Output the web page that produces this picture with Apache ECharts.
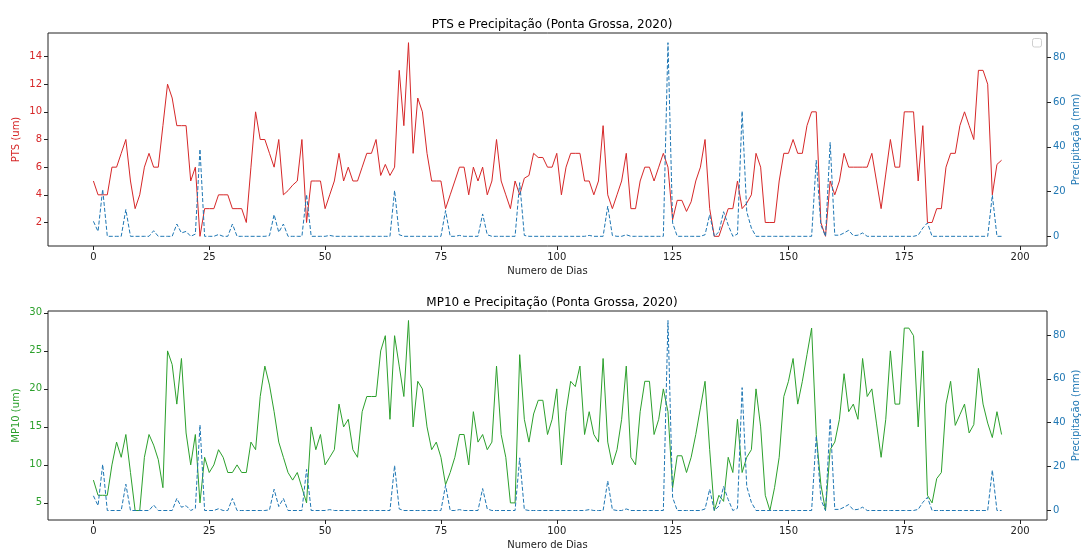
<!DOCTYPE html>
<html><head><meta charset="utf-8">
<script src="https://cdn.jsdelivr.net/npm/echarts@6/dist/echarts.min.js"></script>
<style>html,body{margin:0;padding:0;background:#fff}#c{width:1082px;height:553px}</style>
</head><body><div id="c"></div>
<script>
const pts = [
5,4,4,4,6,6,7,8,5,3,
4,6,7,6,6,9,12,11,9,9,
9,5,6,1,3,3,3,4,4,4,
3,3,3,2,6,10,8,8,7,6,
8,4,4.3,4.7,5,8,2,5,5,5,
3,4,5,7,5,6,5,5,6,7,
7,8,5.4,6.2,5.4,6,13,9,15,7,
11,10,7,5,5,5,3,4,5,6,
6,4,6,5,6,4,5,8,5,4,
3,5,4,5.2,5.4,7,6.7,6.7,6,6,
7,4,6,7,7,7,5,5,4,5,
9,4,3,4,5,7,3,3,5,6,
6,5,6,7,6,2.2,3.6,3.6,2.8,3.5,
5,6,8,3,1,1,2,3,3,5,
3,3.4,4,7,6,2,2,2,5,7,
7,8,7,7,9,10,10,2,1,5,
4,5,7,6,6,6,6,6,7,5,
3,5.5,8,6,6,10,10,10,5,9,
2,2,3,3,6,7,7,9,10,9,
8,13,13,12,4,6.2,6.5
];
const mp10 = [
8,6,6,6,10,13,11,14,9,4,
4,11,14,12.6,10.7,7,25,23.2,18,24,
14.2,10,14,5,11,9,10,12,11,9,
9,10,9,9,13,12,19,23,20.5,17,
13,11,9,8,9,7,5,15,12,14,
10,11,12,18,15,16,12,11,17,19,
19,19,25,27,16,27,23,19,29,15,
21,20,15,12,13,11,7.4,9,11,14,
14,10,17,13,14,12,13,23,14,11,
5,5,24.5,16,13,16.7,18.5,18.5,14,16,
20,10,17,21,20.3,23,14,17,14,13,
24,13,10,12,16,23,11,10,17,21,
21,14,16,20,17,7,11.2,11.2,9,11,
14,17.5,21,12,4,6,5.2,11,9,16,
9,11,12,20,15,6,4,7,11,19,
21,24,18,21,24.5,28,14,7.4,4,12,
13,16,22,17,18,16,24,19,20,15.5,
11,16,25,18,18,28,28,27,15,25,
6,5,8.2,9,18,21,15.2,16.6,18,14.2,
15.3,22.7,18,15.5,13.6,17,14
];
const precip = [
6.7,2.2,21,0,0,0,0,12,0,0,
0,0,0,2.5,0,0,0,0,5.5,1.5,
2.2,0,1,39,0,0,0,0.8,0,0,
5.5,0,0,0,0,0,0,0,0.3,9.7,
1.8,5.5,0,0,0,0,18.7,0,0,0,
0,0.4,0,0,0,0,0,0,0,0,
0,0,0,0,0,20.5,0.7,0,0,0,
0,0,0,0,0,0,11.5,0,0,0.4,
0,0,0,0,10,0.7,0,0,0,0,
0,0,24,0.4,0,0,0,0,0,0,
0,0,0,0,0,0,0,0.4,0,0,
0,13.5,0.4,0,0,0.7,0,0,0,0,
0,0,0,0,86.6,6,0,0,0,0,
0,0,0.7,9.7,0,2,11,5,0,1,
56,11,3.7,0,0,0,0,0,0,0,
0,0,0,0,0,0,34,5,0,42,
0.5,0.5,1.5,2.7,0.3,0.5,1.5,0,0,0,
0,0,0,0,0,0,0,0,0.5,3.7,
6,0,0,0,0,0,0,0,0,0,
0,0,0,0,18.4,0,0
];
const xTicks = [0,25,50,75,100,125,150,175,200];
const ptsTicks = [2,4,6,8,10,12,14];
const mp10Ticks = [5,10,15,20,25,30];
const precipTicks = [0,20,40,60,80];
const titles = ['PTS e Precipitação (Ponta Grossa, 2020)', 'MP10 e Precipitação (Ponta Grossa, 2020)'];

const days = pts.map((_, i) => i);
const pair = arr => arr.map((v, i) => [days[i], v]);

const RED = '#d62728', GREEN = '#2ca02c', BLUE = '#1f77b4';
const FONT = 'DejaVu Sans';

function span(arr) {
  const mn = Math.min(...arr), mx = Math.max(...arr), m = (mx - mn) * 0.05;
  return [mn - m, mx + m];
}
const xr = span(days), pr = span(pts), mr = span(mp10), rr = span(precip);

function xAxis(gi) {
  return {
    type: 'value', gridIndex: gi, min: xr[0], max: xr[1], position: 'bottom',
    axisLine: { show: false, onZero: false }, splitLine: { show: false },
    axisTick: { show: true, length: 4, inside: false, customValues: xTicks, lineStyle: { color: '#222' } },
    axisLabel: { customValues: xTicks, fontSize: 10, color: '#222', fontFamily: FONT, margin: 6 },
    name: 'Numero de Dias', nameLocation: 'middle', nameGap: 20, nameMoveOverlap: false,
    nameTextStyle: { fontSize: 10, color: '#222', fontFamily: FONT }
  };
}
function yAxis(gi, pos, range, ticks, color, name, gap) {
  return {
    type: 'value', gridIndex: gi, position: pos, min: range[0], max: range[1],
    axisLine: { show: false, onZero: false }, splitLine: { show: false },
    axisTick: { show: true, length: 4, inside: false, customValues: ticks, lineStyle: { color: '#222' } },
    axisLabel: { customValues: ticks, fontSize: 10, color: color, fontFamily: FONT, margin: 6 },
    name: name, nameLocation: 'middle', nameRotate: 90, nameGap: gap, nameMoveOverlap: false,
    nameTextStyle: { fontSize: 10, color: color, fontFamily: FONT }
  };
}
function line(data, xi, yi, color, dashed) {
  return {
    type: 'line', xAxisIndex: xi, yAxisIndex: yi, data: pair(data),
    showSymbol: false, symbol: 'none', animation: false, silent: true,
    lineStyle: { color: color, width: 1, type: dashed ? [4, 2] : 'solid' },
    itemStyle: { color: color }
  };
}
const gridBase = { left: 48, right: 35, show: true, borderColor: '#222', borderWidth: 1, backgroundColor: 'transparent', containLabel: false, outerBoundsMode: 'none' };

const chart = echarts.init(document.getElementById('c'));
chart.setOption({
  animation: false,
  backgroundColor: '#fff',
  title: [
    { text: titles[0], left: 547, textAlign: 'center', top: 14, textStyle: { fontSize: 12, fontWeight: 'normal', color: '#000', fontFamily: FONT } },
    { text: titles[1], left: 547, textAlign: 'center', top: 292, textStyle: { fontSize: 12, fontWeight: 'normal', color: '#000', fontFamily: FONT } }
  ],
  grid: [
    Object.assign({ top: 33, height: 213 }, gridBase),
    Object.assign({ top: 311, height: 209 }, gridBase)
  ],
  xAxis: [xAxis(0), xAxis(1)],
  yAxis: [
    yAxis(0, 'left', pr, ptsTicks, RED, 'PTS (um)', 27),
    yAxis(0, 'right', rr, precipTicks, BLUE, 'Precipitação (mm)', 24),
    yAxis(1, 'left', mr, mp10Ticks, GREEN, 'MP10 (um)', 27),
    yAxis(1, 'right', rr, precipTicks, BLUE, 'Precipitação (mm)', 24)
  ],
  series: [
    line(pts, 0, 0, RED, false),
    line(precip, 0, 1, BLUE, true),
    line(mp10, 1, 2, GREEN, false),
    line(precip, 1, 3, BLUE, true)
  ],
  graphic: [
    { type: 'rect', shape: { x: 1032.5, y: 38.5, width: 9, height: 8.5, r: 2 }, style: { fill: '#fff', stroke: '#cfcfcf', lineWidth: 1 } }
  ]
});
</script>
</body></html>
